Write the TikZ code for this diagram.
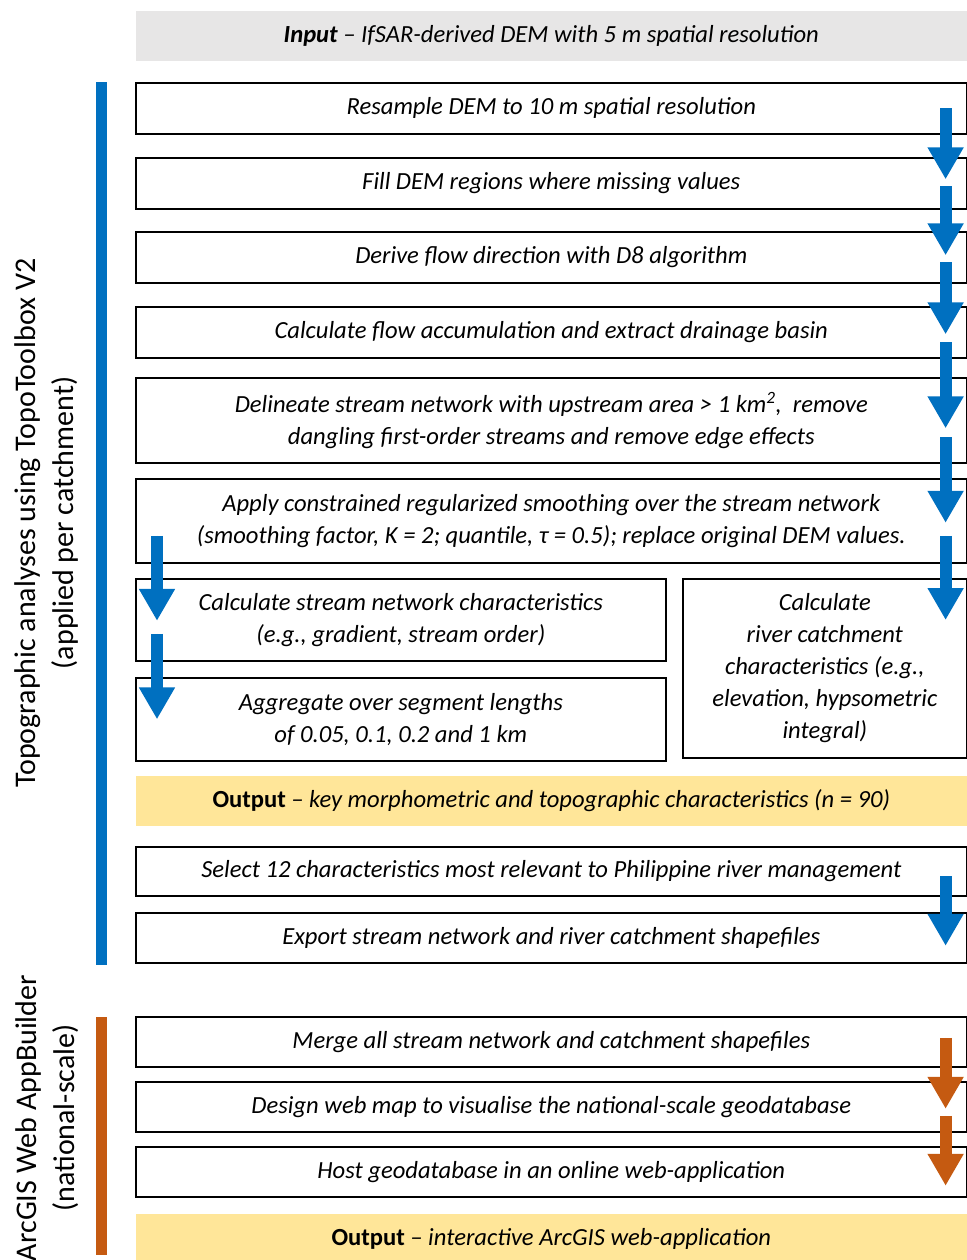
\documentclass[tikz,border=0pt]{standalone}
\usepackage{fontspec}
\setmainfont{Carlito}
\usepackage{tikz}
\usetikzlibrary{arrows.meta,positioning,calc}
\definecolor{topoblue}{HTML}{0070C0}
\definecolor{gisorange}{HTML}{C55A11}
\definecolor{ingray}{HTML}{E7E6E6}
\definecolor{outyellow}{HTML}{FFE699}

\begin{document}
\begin{tikzpicture}[x=1pt, y=-1pt,
    proc/.style={draw, line width=1.6pt, fill=white, anchor=north west, align=center,
        inner sep=0pt, minimum width=831pt, font=\fontsize{24.6}{32}\selectfont\itshape},
    inbox/.style={proc, draw=none, fill=ingray},
    outbox/.style={proc, draw=none, fill=outyellow},
    sidelbl/.style={rotate=90, align=center, font=\fontsize{30}{38}\selectfont},
    bluearr/.style={draw=topoblue, fill=topoblue, line width=12pt, -{Triangle[width=34pt,length=32pt]}},
    orangearr/.style={draw=gisorange, fill=gisorange, line width=12pt, -{Triangle[width=34pt,length=32pt]}}]
    \useasboundingbox (0,0) rectangle (966,1260);

    % side bars and labels
    \fill[topoblue] (96,82) rectangle (107,965);
    \fill[gisorange] (96,1017) rectangle (107,1255);
    \node[sidelbl] (topo) at (47,523) {Topographic analyses using TopoToolbox V2\\(applied per catchment)};
    \node[sidelbl] (gis) at (47,1118) {ArcGIS Web AppBuilder\\(national-scale)};

    % TopoToolbox steps
    \node[inbox, minimum height=50pt] (in) at (135,10) {\textbf{Input} -- IfSAR-derived DEM with 5 m spatial resolution};
    \node[proc, minimum height=51pt] (b1) at (135,82) {Resample DEM to 10 m spatial resolution};
    \node[proc, minimum height=51pt] (b2) at (135,157) {Fill DEM regions where missing values};
    \node[proc, minimum height=51pt] (b3) at (135,231) {Derive flow direction with D8 algorithm};
    \node[proc, minimum height=51pt] (b4) at (135,306) {Calculate flow accumulation and extract drainage basin};
    \node[proc, minimum height=85pt] (b5) at (135,377) {Delineate stream network with upstream area > 1 km\textsuperscript{2}, \ remove\\dangling first-order streams and remove edge effects};
    \node[proc, minimum height=84pt] (b6) at (135,478) {Apply constrained regularized smoothing over the stream network\\(smoothing factor, K = 2; quantile, τ = 0.5); replace original DEM values.};
    \node[proc, minimum width=530pt, minimum height=82pt] (b7) at (135,578) {Calculate stream network characteristics\\(e.g., gradient, stream order)};
    \node[proc, minimum width=530pt, minimum height=83pt] (b8) at (135,677) {Aggregate over segment lengths\\of 0.05, 0.1, 0.2 and 1 km};
    \node[proc, minimum width=284pt, minimum height=179pt] (b9) at (682,578) {Calculate\\river catchment\\characteristics (e.g.,\\elevation, hypsometric\\integral)};
    \node[outbox, minimum height=50pt] (out1) at (135,775) {\textbf{\upshape Output} -- key morphometric and topographic characteristics (n = 90)};
    \node[proc, minimum height=49pt] (b10) at (135,846) {Select 12 characteristics most relevant to Philippine river management};
    \node[proc, minimum height=50pt] (b11) at (135,912) {Export stream network and river catchment shapefiles};

    % ArcGIS steps
    \node[proc, minimum height=50pt] (b12) at (135,1016) {Merge all stream network and catchment shapefiles};
    \node[proc, minimum height=50pt] (b13) at (135,1081) {Design web map to visualise the national-scale geodatabase};
    \node[proc, minimum height=50pt] (b14) at (135,1146) {Host geodatabase in an online web-application};
    \node[outbox, minimum height=50pt] (out2) at (135,1213) {\textbf{\upshape Output} -- interactive ArcGIS web-application};

    % block arrows
    \draw[bluearr] ([xshift=-22pt]b1.east) -- ([xshift=-22pt,yshift=4pt]b2.east);
    \draw[bluearr] ([xshift=-22pt,yshift=-3pt]b2.east) -- ([xshift=-22pt,yshift=2pt]b3.east);
    \draw[bluearr] ([xshift=-22pt,yshift=-5pt]b3.east) -- ([xshift=-22pt,yshift=-2pt]b4.east);
    \draw[bluearr] ([xshift=-22pt,yshift=-10pt]b4.east) -- ([xshift=-22pt,yshift=-8pt]b5.east);
    \draw[bluearr] ([xshift=-22pt,yshift=-17pt]b5.east) -- ([xshift=-22pt,yshift=-2pt]b6.east);
    \draw[bluearr] ([xshift=-22pt,yshift=-15pt]b6.east) -- ([xshift=-22pt,yshift=-42pt]b9.north east);
    \draw[bluearr] ([xshift=22pt,yshift=-15pt]b6.west) -- ([xshift=22pt,yshift=-1pt]b7.west);
    \draw[bluearr] ([xshift=22pt,yshift=-14pt]b7.west) -- ([xshift=22pt]b8.west);
    \draw[bluearr] ([xshift=-22pt,yshift=-5pt]b10.east) -- ([xshift=-22pt,yshift=-8pt]b11.east);
    \draw[orangearr] ([xshift=-22pt,yshift=4pt]b12.east) -- ([xshift=-22pt,yshift=-2pt]b13.east);
    \draw[orangearr] ([xshift=-22pt,yshift=-9pt]b13.east) -- ([xshift=-22pt,yshift=-14pt]b14.east);
\end{tikzpicture}
\end{document}
